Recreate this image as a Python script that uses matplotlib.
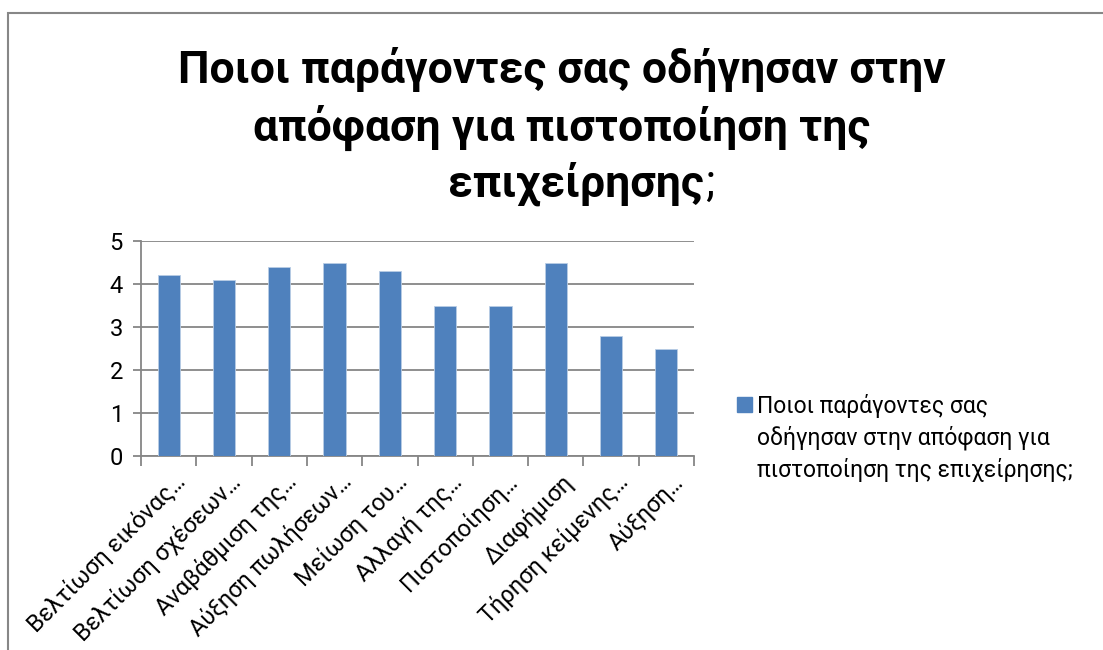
import matplotlib
matplotlib.use("Agg")
import matplotlib.pyplot as plt
from matplotlib.patches import Rectangle
from matplotlib.ticker import FixedLocator, NullFormatter
from matplotlib.transforms import ScaledTranslation

plt.rcParams['font.family'] = ['Roboto', 'DejaVu Sans']

categories = [
    "Βελτίωση εικόνας…",
    "Βελτίωση σχέσεων…",
    "Αναβάθμιση της…",
    "Αύξηση πωλήσεων…",
    "Μείωση του…",
    "Αλλαγή της…",
    "Πιστοποίηση…",
    "Διαφήμιση",
    "Τήρηση κείμενης…",
    "Αύξηση…",
]
values = [4.2, 4.1, 4.4, 4.5, 4.3, 3.5, 3.5, 4.5, 2.8, 2.5]
yticks = [0, 1, 2, 3, 4, 5]
series_name = "Ποιοι παράγοντες σας\nοδήγησαν στην απόφαση για\nπιστοποίηση της επιχείρησης;"

bar_color = "#4F81BD"
grid_color = "#868686"

W, H = 1103, 650
fig = plt.figure(figsize=(W / 100, H / 100), dpi=100)

# outer chart frame
fig.patches.append(Rectangle((7.5 / W, -0.1), 1.2, 1 - 12.5 / H + 0.1,
                             transform=fig.transFigure, fill=False,
                             edgecolor="#878787", linewidth=1.5))

ax = fig.add_axes([141 / W, 1 - 456 / H, 553 / W, 215 / H])
x = range(len(categories))
ax.bar(x, values, width=0.4, color=bar_color, zorder=3,
       edgecolor="#B9CDE5", linewidth=0.6, label=series_name)

ax.set_xlim(-0.5, len(categories) - 0.5)
ax.set_ylim(0, 5)
ax.set_yticks(yticks)
ax.set_yticklabels([str(v) for v in yticks], fontsize=17)
ax.yaxis.grid(True, color=grid_color, linewidth=1.3, zorder=0)
ax.tick_params(axis='y', length=6, width=1.3, color=grid_color, pad=7)

# category ticks at the boundaries, labels at the centers
ax.set_xticks(list(x))
ax.set_xticklabels(categories, rotation=45, ha='right', rotation_mode='anchor',
                   fontsize=17)
ax.tick_params(axis='x', which='major', length=0, pad=10)
ax.xaxis.set_minor_locator(FixedLocator([i - 0.5 for i in range(len(categories) + 1)]))
ax.xaxis.set_minor_formatter(NullFormatter())
ax.tick_params(axis='x', which='minor', length=7, width=1.3, color=grid_color)
for lab in ax.get_xticklabels():
    lab.set_transform(lab.get_transform() + ScaledTranslation(5 / 100, 0, fig.dpi_scale_trans))

for side in ('top', 'right'):
    ax.spines[side].set_visible(False)
for side in ('left', 'bottom'):
    ax.spines[side].set_color(grid_color)
    ax.spines[side].set_linewidth(1.3)

# title
title_size = 32
fig.text(562 / W, 1 - 70 / H, "Ποιοι παράγοντες σας οδήγησαν στην",
         ha='center', va='center', fontsize=title_size, fontweight='bold')
fig.text(562 / W, 1 - 128 / H, "απόφαση για πιστοποίηση της",
         ha='center', va='center', fontsize=title_size, fontweight='bold')
fig.text(704 / W, 1 - 184 / H, "επιχείρησης",
         ha='right', va='center', fontsize=title_size, fontweight='bold')
fig.text(705 / W, 1 - 184 / H, ";", ha='left', va='center', fontsize=title_size)

# legend
fig.patches.append(Rectangle((737 / W, 1 - 412 / H), 15 / W, 15 / H,
                             transform=fig.transFigure, color=bar_color))
fig.text(757 / W, 1 - 438 / H, series_name, ha='left', va='center',
         fontsize=16.5, linespacing=1.4)

fig.savefig("out.png", dpi=100, facecolor="white")
